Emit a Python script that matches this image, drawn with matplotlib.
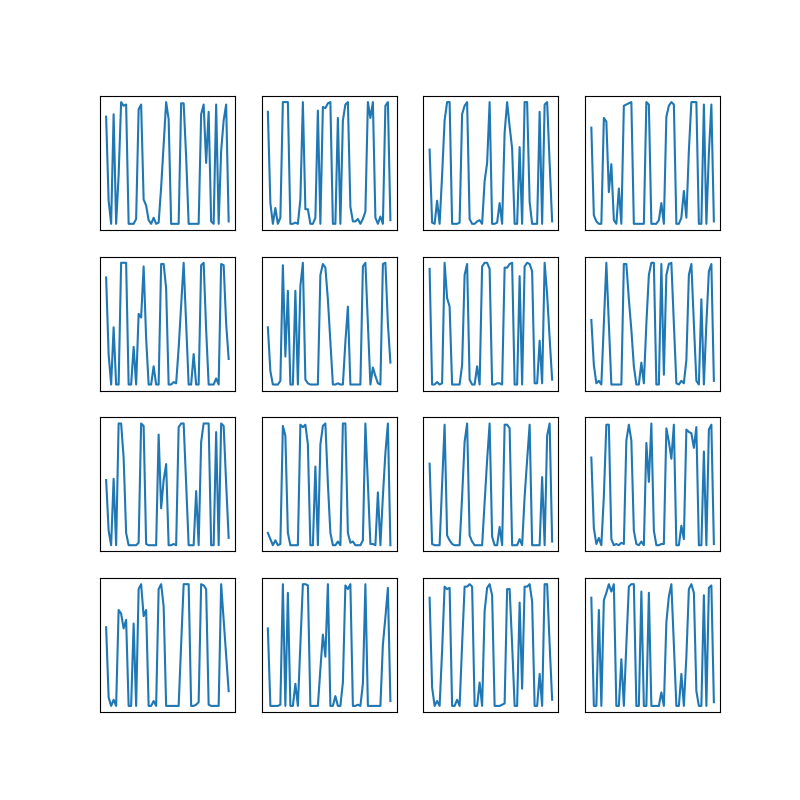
import matplotlib
matplotlib.use('Agg')
import matplotlib.pyplot as plt
import numpy as np

# 16 series of 50 values (row by row)
s1 = [0.88, 0.19, 0.0, 0.9, 0.0, 0.4, 1.0, 0.97, 0.98, 0.0,
      0.0, 0.0, 0.04, 0.94, 0.98, 0.2, 0.15, 0.03, 0.0, 0.05,
      0.0, 0.01, 0.3, 0.65, 1.0, 0.86, 0.0, 0.0, 0.0, 0.0,
      0.99, 0.99, 0.55, 0.0, 0.0, 0.0, 0.0, 0.0, 0.9, 0.98,
      0.5, 0.92, 0.02, 0.0, 0.98, 0.0, 0.6, 0.85, 0.98, 0.02]
s2 = [0.92, 0.17, 0.0, 0.13, 0.0, 0.05, 1.0, 1.0, 1.0, 0.0,
      0.0, 0.01, 0.0, 0.2, 1.0, 0.12, 0.12, 0.0, 0.0, 0.05,
      0.93, 0.0, 0.96, 0.95, 0.99, 1.0, 0.0, 0.0, 0.87, 0.0,
      0.85, 0.98, 1.0, 0.14, 0.02, 0.02, 0.04, 0.0, 0.04, 0.1,
      1.0, 0.87, 1.0, 0.05, 0.0, 0.06, 0.0, 0.97, 1.0, 0.03]
s3 = [0.61, 0.01, 0.0, 0.19, 0.0, 0.4, 0.85, 1.0, 1.0, 0.0,
      0.0, 0.0, 0.01, 0.9, 0.97, 1.0, 0.04, 0.0, 0.0, 0.02,
      0.03, 0.0, 0.35, 0.5, 1.0, 0.0, 0.0, 0.01, 0.17, 0.0,
      0.75, 1.0, 0.8, 0.62, 0.0, 0.0, 0.63, 0.0, 1.0, 1.0,
      0.18, 0.0, 0.0, 0.0, 0.92, 0.0, 0.98, 1.0, 0.5, 0.02]
s4 = [0.79, 0.07, 0.02, 0.0, 0.0, 0.87, 0.84, 0.26, 0.49, 0.03,
      0.0, 0.29, 0.0, 0.97, 0.98, 0.99, 1.0, 0.0, 0.0, 0.0,
      0.0, 0.0, 1.0, 0.98, 0.0, 0.0, 0.0, 0.03, 0.17, 0.0,
      0.88, 0.97, 1.0, 0.98, 0.0, 0.0, 0.05, 0.27, 0.05, 0.6,
      1.0, 1.0, 1.0, 0.0, 0.0, 0.98, 0.0, 0.58, 0.98, 0.02]
s5 = [0.88, 0.25, 0.0, 0.47, 0.0, 0.0, 1.0, 1.0, 1.0, 0.0,
      0.0, 0.31, 0.0, 0.58, 0.55, 0.97, 0.38, 0.0, 0.0, 0.15,
      0.0, 0.0, 0.99, 0.99, 0.79, 0.0, 0.0, 0.02, 0.01, 0.3,
      0.65, 1.0, 0.5, 0.0, 0.0, 0.25, 0.0, 0.0, 0.98, 1.0,
      0.45, 0.0, 0.0, 0.0, 0.05, 0.0, 0.99, 0.98, 0.5, 0.21]
s6 = [0.47, 0.11, 0.0, 0.0, 0.0, 0.03, 0.98, 0.23, 0.77, 0.0,
      0.0, 0.77, 0.0, 0.81, 1.0, 0.04, 0.01, 0.0, 0.0, 0.0,
      0.0, 0.9, 0.99, 0.96, 0.7, 0.35, 0.0, 0.0, 0.01, 0.0,
      0.0, 0.35, 0.64, 0.0, 0.0, 0.0, 0.0, 0.0, 0.97, 1.0,
      0.5, 0.0, 0.14, 0.07, 0.01, 0.0, 0.99, 1.0, 0.5, 0.18]
s7 = [0.95, 0.0, 0.0, 0.02, 0.0, 0.01, 1.0, 0.71, 0.64, 0.0,
      0.0, 0.0, 0.0, 0.16, 0.9, 0.99, 0.04, 0.0, 0.0, 0.15,
      0.0, 0.97, 1.0, 1.0, 0.95, 0.0, 0.0, 0.01, 0.01, 0.0,
      0.96, 0.96, 0.99, 1.0, 0.0, 0.0, 0.89, 0.0, 0.97, 1.0,
      0.99, 0.93, 0.01, 0.01, 0.36, 0.01, 1.0, 0.74, 0.38, 0.04]
s8 = [0.53, 0.16, 0.01, 0.03, 0.0, 0.5, 1.0, 0.5, 0.0, 0.0,
      0.0, 0.0, 0.0, 0.99, 0.99, 0.7, 0.45, 0.15, 0.0, 0.0,
      0.18, 0.01, 0.5, 0.9, 1.0, 1.0, 0.0, 0.0, 0.99, 0.08,
      0.9, 0.99, 1.0, 0.5, 0.01, 0.0, 0.03, 0.01, 0.2, 0.9,
      0.99, 0.5, 0.03, 0.0, 0.7, 0.0, 0.5, 0.93, 0.99, 0.03]
s9 = [0.53, 0.12, 0.0, 0.54, 0.0, 0.99, 0.99, 0.71, 0.1, 0.0,
      0.0, 0.0, 0.0, 0.02, 0.99, 0.97, 0.01, 0.0, 0.0, 0.0,
      0.0, 0.9, 0.3, 0.53, 0.66, 0.0, 0.0, 0.01, 0.0, 0.96,
      0.99, 0.99, 0.5, 0.0, 0.0, 0.0, 0.44, 0.0, 0.84, 0.99,
      0.99, 0.99, 0.0, 0.0, 0.92, 0.0, 0.99, 0.97, 0.5, 0.06]
s10 = [0.1, 0.05, 0.0, 0.04, 0.0, 0.01, 0.97, 0.89, 0.1, 0.0,
       0.0, 0.0, 0.0, 0.98, 0.96, 0.98, 0.82, 0.0, 0.0, 0.64,
       0.0, 0.82, 0.97, 0.99, 0.5, 0.1, 0.0, 0.0, 0.03, 0.0,
       0.99, 0.99, 0.1, 0.02, 0.03, 0.0, 0.0, 0.0, 0.04, 0.99,
       0.5, 0.01, 0.01, 0.0, 0.43, 0.0, 0.4, 0.75, 0.99, 0.0]
s11 = [0.67, 0.01, 0.0, 0.0, 0.0, 0.5, 0.99, 0.08, 0.04, 0.01,
       0.0, 0.0, 0.0, 0.4, 0.85, 1.0, 0.08, 0.03, 0.0, 0.0,
       0.0, 0.0, 0.35, 0.7, 1.0, 0.07, 0.0, 0.0, 0.15, 0.0,
       0.99, 0.99, 0.96, 0.0, 0.0, 0.0, 0.05, 0.0, 0.4, 0.7,
       0.99, 0.0, 0.0, 0.0, 0.0, 0.56, 0.0, 0.9, 1.0, 0.03]
s12 = [0.72, 0.14, 0.01, 0.06, 0.0, 0.4, 0.99, 0.99, 0.05, 0.0,
       0.01, 0.0, 0.02, 0.01, 0.86, 0.99, 0.86, 0.12, 0.01, 0.0,
       0.03, 0.0, 0.84, 0.52, 1.0, 0.12, 0.0, 0.0, 0.01, 0.01,
       0.96, 0.85, 0.71, 0.99, 0.0, 0.0, 0.16, 0.05, 0.95, 0.93,
       0.92, 0.8, 0.97, 0.0, 0.0, 0.77, 0.0, 0.95, 0.99, 0.01]
s13 = [0.64, 0.07, 0.0, 0.05, 0.0, 0.78, 0.75, 0.63, 0.7, 0.0,
       0.0, 0.67, 0.0, 0.95, 0.99, 0.73, 0.78, 0.0, 0.0, 0.04,
       0.0, 0.95, 0.99, 0.81, 0.0, 0.0, 0.0, 0.0, 0.0, 0.0,
       0.5, 0.99, 0.99, 0.99, 0.0, 0.0, 0.01, 0.03, 0.99, 0.98,
       0.95, 0.01, 0.0, 0.0, 0.0, 0.0, 0.99, 0.7, 0.41, 0.12]
s14 = [0.63, 0.0, 0.0, 0.0, 0.0, 0.01, 0.99, 0.0, 0.92, 0.0,
       0.0, 0.18, 0.0, 0.5, 0.99, 0.99, 0.98, 0.0, 0.0, 0.0,
       0.0, 0.3, 0.58, 0.4, 0.99, 0.0, 0.0, 0.08, 0.0, 0.0,
       0.19, 0.98, 0.95, 0.99, 0.0, 0.0, 0.01, 0.0, 0.18, 0.99,
       0.0, 0.0, 0.0, 0.0, 0.0, 0.0, 0.5, 0.72, 0.96, 0.04]
s15 = [0.88, 0.15, 0.0, 0.04, 0.0, 0.45, 0.97, 0.95, 0.96, 0.0,
       0.0, 0.05, 0.0, 0.5, 0.97, 0.97, 0.99, 0.97, 0.0, 0.0,
       0.19, 0.0, 0.77, 0.96, 0.99, 0.9, 0.0, 0.0, 0.0, 0.01,
       0.02, 0.95, 0.95, 0.5, 0.0, 0.0, 0.84, 0.14, 0.97, 0.97,
       0.99, 0.85, 0.0, 0.0, 0.26, 0.0, 0.99, 0.99, 0.5, 0.05]
s16 = [0.88, 0.0, 0.0, 0.78, 0.0, 0.86, 0.92, 0.99, 0.93, 0.99,
       0.0, 0.0, 0.38, 0.0, 0.5, 0.97, 0.99, 0.99, 0.0, 0.0,
       0.93, 0.0, 0.0, 0.92, 0.0, 0.0, 0.0, 0.0, 0.11, 0.0,
       0.68, 0.89, 0.99, 0.5, 0.0, 0.0, 0.26, 0.0, 0.4, 0.95,
       0.99, 0.92, 0.12, 0.0, 0.0, 0.9, 0.0, 0.96, 0.98, 0.03]

series = [s1, s2, s3, s4, s5, s6, s7, s8,
          s9, s10, s11, s12, s13, s14, s15, s16]

fig = plt.figure(figsize=(8, 8), dpi=100)

for i, s in enumerate(series):
    plt.subplot(4, 4, i + 1)
    plt.plot(np.arange(len(s)), s)
    plt.xticks([])
    plt.yticks([])

plt.savefig('out.png')
